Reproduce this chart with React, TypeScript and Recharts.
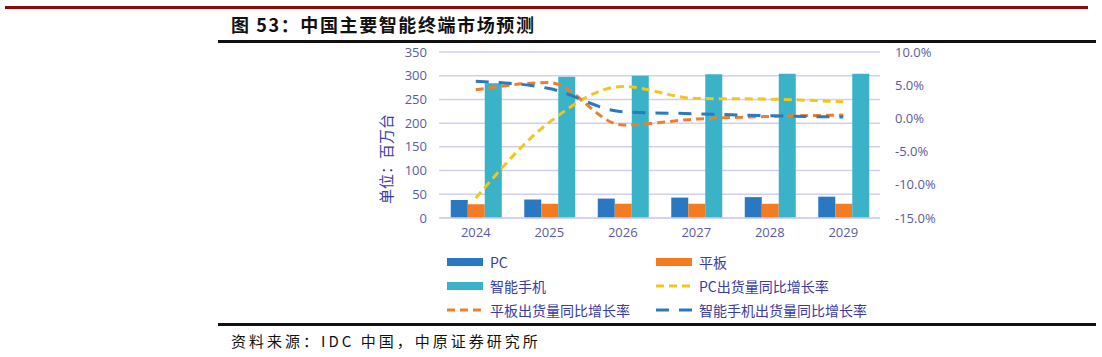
import { Bar, CartesianGrid, ComposedChart, Line, XAxis, YAxis } from 'recharts'

const years = ['2024', '2025', '2026', '2027', '2028', '2029']
const pcShipments = [38, 39, 41, 43, 44, 45]
const tabletShipments = [29, 30, 30, 30, 30, 30]
const phoneShipments = [284, 298, 300, 303, 304, 304]
const pcGrowth = [-12.0, -0.6, 4.8, 3.0, 2.9, 2.5]
const tabletGrowth = [4.3, 5.4, -1.0, -0.1, 0.3, 0.5]
const phoneGrowth = [5.6, 4.5, 1.0, 0.7, 0.4, 0.2]
const leftTicks = [0, 50, 100, 150, 200, 250, 300, 350]
const rightTicks = [-15, -10, -5, 0, 5, 10]

const COLORS = {
  pc: '#2a78c2',
  tablet: '#f47b20',
  phone: '#3ab2c8',
  pcLine: '#f2c61f',
  tabletLine: '#f07f2c',
  phoneLine: '#2c79bf',
  grid: '#cfcff0',
  tick: '#5b5b9e',
  legend: '#3b3ba0',
}

const data = years.map((year, i) => ({
  year,
  pc: pcShipments[i],
  tablet: tabletShipments[i],
  phone: phoneShipments[i],
  pcGrowth: pcGrowth[i],
  tabletGrowth: tabletGrowth[i],
  phoneGrowth: phoneGrowth[i],
}))

const legendItems = [
  { label: 'PC', color: COLORS.pc, kind: 'bar' },
  { label: '平板', color: COLORS.tablet, kind: 'bar' },
  { label: '智能手机', color: COLORS.phone, kind: 'bar' },
  { label: 'PC出货量同比增长率', color: COLORS.pcLine, kind: 'dash', dash: '8 5' },
  { label: '平板出货量同比增长率', color: COLORS.tabletLine, kind: 'dash', dash: '8 5' },
  { label: '智能手机出货量同比增长率', color: COLORS.phoneLine, kind: 'dash', dash: '13 10' },
]

const tickFont = { fontSize: 13, fill: COLORS.tick, fontFamily: '"Open Sans", "Noto Sans CJK SC", sans-serif' }

function UnitLabel(props: any) {
  const vb = props.viewBox || {}
  const x = vb.x + 25
  const y = vb.y + vb.height / 2 + 24
  return (
    <text
      x={x}
      y={y}
      transform={`rotate(-90 ${x} ${y})`}
      textAnchor="middle"
      dominantBaseline="central"
      fontSize={15}
      fill={COLORS.legend}
      fontFamily='"Noto Sans CJK SC", sans-serif'
    >
      单位：百万台
    </text>
  )
}

export default function App() {
  return (
    <div
      style={{
        position: 'absolute',
        left: 0,
        top: 0,
        width: 1102,
        height: 357,
        background: '#fff',
        fontFamily: '"Noto Sans CJK SC", sans-serif',
      }}
    >
      <div style={{ position: 'absolute', left: 5, top: 6, width: 1083, height: 3, background: '#8e0b0b' }} />
      <div
        style={{
          position: 'absolute',
          left: 231,
          top: 12,
          fontSize: 18,
          fontWeight: 700,
          letterSpacing: 1.6,
          color: '#111',
          lineHeight: '24px',
          fontFamily: '"Noto Sans CJK SC", "Liberation Sans", sans-serif',
        }}
      >
        图 53：中国主要智能终端市场预测
      </div>
      <div style={{ position: 'absolute', left: 218, top: 40, width: 878, height: 3, background: '#111' }} />

      <div style={{ position: 'absolute', left: 360, top: 40 }}>
        <ComposedChart
          width={580}
          height={215}
          data={data}
          margin={{ top: 12, right: 0, bottom: 0, left: 0 }}
          barGap={0}
          barCategoryGap="16%"
        >
          <CartesianGrid yAxisId="left" vertical={false} stroke={COLORS.grid} strokeWidth={1.5} />
          <XAxis
            dataKey="year"
            axisLine={{ stroke: COLORS.grid, strokeWidth: 1.5 }}
            tickLine={false}
            tickSize={0}
            tickMargin={10}
            tick={tickFont}
            height={37}
          />
          <YAxis
            yAxisId="left"
            orientation="left"
            domain={[0, 350]}
            ticks={leftTicks}
            axisLine={false}
            tickLine={false}
            tickSize={0}
            tickMargin={12}
            width={79}
            tick={tickFont}
            label={<UnitLabel />}
          />
          <YAxis
            yAxisId="right"
            orientation="right"
            domain={[-15, 10]}
            ticks={rightTicks}
            axisLine={false}
            tickLine={false}
            tickSize={0}
            tickMargin={15}
            width={60}
            tick={{ ...tickFont, textAnchor: 'start' }}
            tickFormatter={(v: number) => `${v.toFixed(1)}%`}
          />
          <Bar yAxisId="left" dataKey="pc" fill={COLORS.pc} isAnimationActive={false} />
          <Bar yAxisId="left" dataKey="tablet" fill={COLORS.tablet} isAnimationActive={false} />
          <Bar yAxisId="left" dataKey="phone" fill={COLORS.phone} isAnimationActive={false} />
          <Line
            yAxisId="right"
            type="monotone"
            dataKey="pcGrowth"
            stroke={COLORS.pcLine}
            strokeWidth={3}
            strokeDasharray="8 5"
            dot={false}
            activeDot={false}
            isAnimationActive={false}
          />
          <Line
            yAxisId="right"
            type="monotone"
            dataKey="tabletGrowth"
            stroke={COLORS.tabletLine}
            strokeWidth={3}
            strokeDasharray="8 5"
            dot={false}
            activeDot={false}
            isAnimationActive={false}
          />
          <Line
            yAxisId="right"
            type="monotone"
            dataKey="phoneGrowth"
            stroke={COLORS.phoneLine}
            strokeWidth={3}
            strokeDasharray="13 10"
            dot={false}
            activeDot={false}
            isAnimationActive={false}
          />
        </ComposedChart>
      </div>

      <div
        style={{
          position: 'absolute',
          left: 446,
          top: 253,
          display: 'grid',
          gridTemplateColumns: '209px 240px',
          rowGap: 6,
          fontSize: 14,
          color: COLORS.legend,
          lineHeight: '18px',
        }}
      >
        {legendItems.map((item) => (
          <div key={item.label} style={{ display: 'flex', alignItems: 'center' }}>
            <svg width={38} height={18} style={{ marginRight: 6 }}>
              {item.kind === 'bar' ? (
                <rect x={1} y={5} width={36} height={8} fill={item.color} />
              ) : (
                <line x1={1} y1={9} x2={37} y2={9} stroke={item.color} strokeWidth={3} strokeDasharray={item.dash} />
              )}
            </svg>
            <span>{item.label}</span>
          </div>
        ))}
      </div>

      <div style={{ position: 'absolute', left: 218, top: 323, width: 878, height: 3, background: '#111' }} />
      <div
        style={{
          position: 'absolute',
          left: 231,
          top: 330,
          fontSize: 15,
          letterSpacing: 3,
          color: '#111',
          lineHeight: '22px',
          fontFamily: '"Noto Sans CJK SC", "Liberation Sans", sans-serif',
        }}
      >
        资料来源：IDC 中国，中原证券研究所
      </div>
    </div>
  )
}
